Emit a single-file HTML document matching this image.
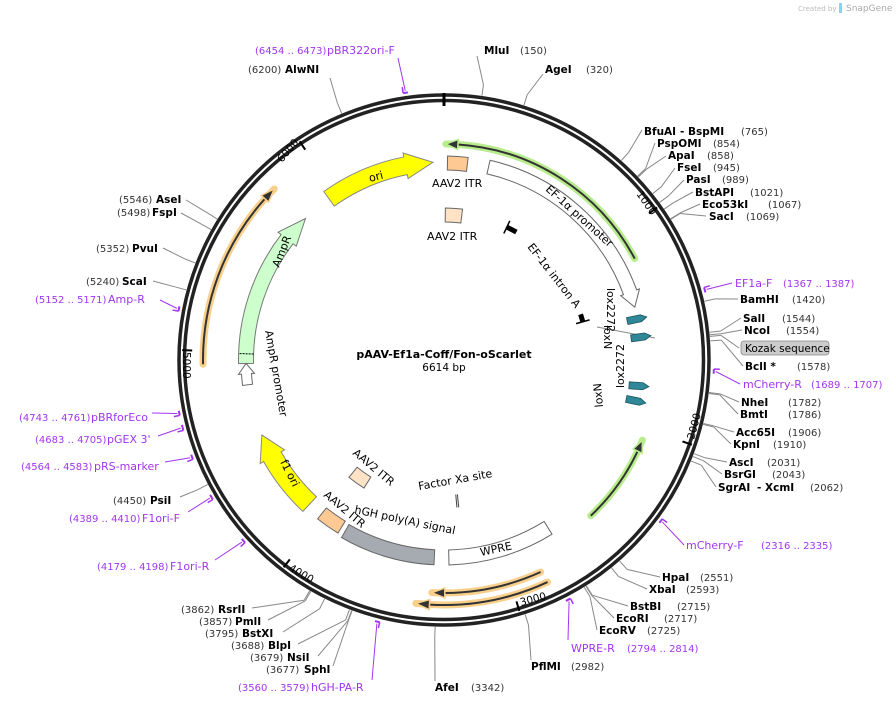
<!DOCTYPE html>
<html><head><meta charset="utf-8">
<style>
html,body{margin:0;padding:0;background:#fff;}
svg{display:block;}
text{font-family:"DejaVu Sans","Liberation Sans",sans-serif;font-size:11px;fill:#000;}
.b{font-weight:bold;font-size:10.5px;}
.n{fill:#333;font-size:10px;}
.p{fill:#a235f0;font-size:10px;}
.f{font-size:11px;}
</style></head>
<body>
<svg id="s" width="896" height="704" viewBox="0 0 896 704" xmlns="http://www.w3.org/2000/svg">
<g id="lines"></g>
<g id="feat"></g>
<!-- ring -->
<circle cx="444" cy="360" r="265" fill="none" stroke="#222" stroke-width="3.5"/>
<circle cx="444" cy="360" r="259.5" fill="none" stroke="#222" stroke-width="3.5"/>
<g id="ticks"></g>
<g id="prim"></g>

<!-- watermark -->
<text x="798" y="11" style="font-size:7px;fill:#bbb">Created by</text>
<rect x="839" y="3" width="3" height="10" fill="#8fd0f0"/>
<text x="846" y="11" style="font-size:9px;fill:#aaa">SnapGene</text>

<!-- center -->
<text x="444" y="358" text-anchor="middle" style="font-size:11px;font-weight:bold">pAAV-Ef1a-Coff/Fon-oScarlet</text>
<text x="444" y="371" text-anchor="middle" style="font-size:10.5px">6614 bp</text>

<!-- tick numbers -->
<text transform="translate(636,194) rotate(55)" style="font-size:10.5px">1000</text>
<text transform="translate(694,440) rotate(-75)" style="font-size:10.5px">2000</text>
<text transform="translate(521,606) rotate(-15)" style="font-size:10.5px">3000</text>
<text transform="translate(288,570) rotate(30)" style="font-size:10.5px">4000</text>
<text transform="translate(183,352) rotate(90)" style="font-size:10.5px">5000</text>
<text transform="translate(282,163) rotate(-50)" style="font-size:10.5px">6000</text>

<!-- feature labels -->
<text transform="translate(370,182) rotate(-15)" class="f">ori</text>
<text x="432" y="187" class="f">AAV2 ITR</text>
<text x="427" y="240" class="f">AAV2 ITR</text>
<text transform="translate(545,190) rotate(42)" class="f">EF-1α promoter</text>
<text transform="translate(527,247) rotate(52)" class="f">EF-1α intron A</text>
<text transform="translate(607,288) rotate(90)" class="f">lox2272</text>
<text transform="translate(604,325) rotate(90)" class="f">loxN</text>
<text transform="translate(624,388) rotate(-90)" class="f">lox2272</text>
<text transform="translate(603,407) rotate(-95)" class="f">loxN</text>
<text transform="translate(279,268) rotate(-68)" class="f">AmpR</text>
<text transform="translate(265,331) rotate(80)" class="f">AmpR promoter</text>
<text transform="translate(280,462) rotate(63)" class="f">f1 ori</text>
<text transform="translate(352,454) rotate(40)" class="f">AAV2 ITR</text>
<text transform="translate(323,496) rotate(40)" class="f">AAV2 ITR</text>
<text transform="translate(354,513) rotate(12)" class="f">hGH poly(A) signal</text>
<text transform="translate(419,490) rotate(-10)" class="f">Factor Xa site</text>
<text transform="translate(481,556) rotate(-12)" class="f">WPRE</text>

<!-- top labels -->
<text x="255" y="54" class="p">(6454 .. 6473)</text><text x="327" y="54" class="p f">pBR322ori-F</text>
<text x="248" y="73" class="n">(6200)</text><text x="285" y="73" class="b">AlwNI</text>
<text x="484" y="54" class="b">MluI</text><text x="520" y="54" class="n">(150)</text>
<text x="545" y="73" class="b">AgeI</text><text x="586" y="73" class="n">(320)</text>
<!-- right -->
<text x="644" y="135" class="b">BfuAI</text><text x="680" y="135" class="b">- BspMI</text><text x="741" y="135" class="n">(765)</text>
<text x="657" y="147" class="b">PspOMI</text><text x="713" y="147" class="n">(854)</text>
<text x="668" y="159" class="b">ApaI</text><text x="707" y="159" class="n">(858)</text>
<text x="677" y="171" class="b">FseI</text><text x="713" y="171" class="n">(945)</text>
<text x="686" y="183" class="b">PasI</text><text x="722" y="183" class="n">(989)</text>
<text x="695" y="196" class="b">BstAPI</text><text x="750" y="196" class="n">(1021)</text>
<text x="702" y="208" class="b">Eco53kI</text><text x="768" y="208" class="n">(1067)</text>
<text x="709" y="220" class="b">SacI</text><text x="746" y="220" class="n">(1069)</text>
<text x="735" y="287" class="p f">EF1a-F</text><text x="783" y="287" class="p">(1367 .. 1387)</text>
<text x="740" y="303" class="b">BamHI</text><text x="792" y="303" class="n">(1420)</text>
<text x="743" y="322" class="b">SalI</text><text x="782" y="322" class="n">(1544)</text>
<text x="744" y="334" class="b">NcoI</text><text x="786" y="334" class="n">(1554)</text>
<rect x="741" y="341" width="88" height="14" rx="3" fill="#ccc" stroke="#888" stroke-width="0.8"/>
<text x="745" y="352" style="font-size:10.5px">Kozak sequence</text>
<text x="745" y="370" class="b">BclI *</text><text x="797" y="370" class="n">(1578)</text>
<text x="743" y="388" class="p f">mCherry-R</text><text x="811" y="388" class="p">(1689 .. 1707)</text>
<text x="741" y="406" class="b">NheI</text><text x="788" y="406" class="n">(1782)</text>
<text x="740" y="418" class="b">BmtI</text><text x="788" y="418" class="n">(1786)</text>
<text x="736" y="436" class="b">Acc65I</text><text x="788" y="436" class="n">(1906)</text>
<text x="733" y="448" class="b">KpnI</text><text x="773" y="448" class="n">(1910)</text>
<text x="729" y="466" class="b">AscI</text><text x="767" y="466" class="n">(2031)</text>
<text x="724" y="478" class="b">BsrGI</text><text x="772" y="478" class="n">(2043)</text>
<text x="718" y="491" class="b">SgrAI</text><text x="757" y="491" class="b">- XcmI</text><text x="810" y="491" class="n">(2062)</text>
<text x="686" y="549" class="p f">mCherry-F</text><text x="761" y="549" class="p">(2316 .. 2335)</text>
<text x="662" y="581" class="b">HpaI</text><text x="700" y="581" class="n">(2551)</text>
<text x="649" y="593" class="b">XbaI</text><text x="686" y="593" class="n">(2593)</text>
<text x="630" y="610" class="b">BstBI</text><text x="677" y="610" class="n">(2715)</text>
<text x="616" y="622" class="b">EcoRI</text><text x="664" y="622" class="n">(2717)</text>
<text x="599" y="634" class="b">EcoRV</text><text x="647" y="634" class="n">(2725)</text>
<text x="571" y="652" class="p f">WPRE-R</text><text x="627" y="652" class="p">(2794 .. 2814)</text>
<text x="531" y="670" class="b">PflMI</text><text x="571" y="670" class="n">(2982)</text>
<text x="435" y="691" class="b">AfeI</text><text x="471" y="691" class="n">(3342)</text>
<!-- bottom-left -->
<text x="238" y="691" class="p">(3560 .. 3579)</text><text x="311" y="691" class="p f">hGH-PA-R</text>
<text x="266" y="673" class="n">(3677)</text><text x="304" y="673" class="b">SphI</text>
<text x="250" y="661" class="n">(3679)</text><text x="287" y="661" class="b">NsiI</text>
<text x="231" y="649" class="n">(3688)</text><text x="268" y="649" class="b">BlpI</text>
<text x="205" y="637" class="n">(3795)</text><text x="242" y="637" class="b">BstXI</text>
<text x="199" y="625" class="n">(3857)</text><text x="235" y="625" class="b">PmlI</text>
<text x="181" y="613" class="n">(3862)</text><text x="218" y="613" class="b">RsrII</text>
<text x="97" y="570" class="p">(4179 .. 4198)</text><text x="170" y="570" class="p f">F1ori-R</text>
<text x="69" y="522" class="p">(4389 .. 4410)</text><text x="142" y="522" class="p f">F1ori-F</text>
<text x="113" y="504" class="n">(4450)</text><text x="150" y="504" class="b">PsiI</text>
<text x="21" y="470" class="p">(4564 .. 4583)</text><text x="94" y="470" class="p f">pRS-marker</text>
<text x="35" y="443" class="p">(4683 .. 4705)</text><text x="107" y="443" class="p f">pGEX 3'</text>
<text x="19" y="421" class="p">(4743 .. 4761)</text><text x="91" y="421" class="p f">pBRforEco</text>
<text x="35" y="303" class="p">(5152 .. 5171)</text><text x="108" y="303" class="p f">Amp-R</text>
<text x="86" y="285" class="n">(5240)</text><text x="122" y="285" class="b">ScaI</text>
<text x="96" y="252" class="n">(5352)</text><text x="132" y="252" class="b">PvuI</text>
<text x="117" y="216" class="n">(5498)</text><text x="152" y="216" class="b">FspI</text>
<text x="119" y="203" class="n">(5546)</text><text x="156" y="203" class="b">AseI</text>
</svg>
<script>
var CX=444,CY=360,N="http://www.w3.org/2000/svg";
function P(r,a){a=a*Math.PI/180;return [CX+r*Math.sin(a),CY-r*Math.cos(a)];}
function A(bp){return bp/6614*360;}
function el(g,t,at){var e=document.createElementNS(N,t);for(var k in at)e.setAttribute(k,at[k]);document.getElementById(g).appendChild(e);return e;}
function arc(r,a1,a2){var p=P(r,a1),q=P(r,a2);var l=Math.abs(a2-a1)>180?1:0;var sw=a2>a1?1:0;return "M"+p+" A"+r+","+r+" 0 "+l+","+sw+" "+q;}
function band(r1,r2,a1,a2){var p=P(r2,a2),l=Math.abs(a2-a1)>180?1:0;return arc(r1,a1,a2)+" L"+p+" A"+r2+","+r2+" 0 "+l+",0 "+P(r2,a1)+" Z";}
function arrowBand(r,w,a1,a2,h,hw){
 var d=a2>a1?1:-1,ah=a2-d*h,r1=r-w/2,r2=r+w/2;
 var s="M"+P(r1,a1)+" A"+r1+","+r1+" 0 0,"+(d>0?1:0)+" "+P(r1,ah)+" L"+P(r-w/2-hw,ah)+" L"+P(r,a2)+" L"+P(r+w/2+hw,ah)+" L"+P(r2,ah)+" A"+r2+","+r2+" 0 0,"+(d>0?0:1)+" "+P(r2,a1)+" Z";return s;}
function thin(r,a1,a2,glow){
 el("feat","path",{d:arc(r,a1,a2),fill:"none",stroke:glow,"stroke-width":7,"stroke-linecap":"round"});
 var d=a2>a1?1:-1,ah=a2-d*3.2;
 el("feat","path",{d:arc(r,a1,ah),fill:"none",stroke:"#333","stroke-width":2});
 el("feat","path",{d:"M"+P(r,a2)+" L"+P(r-5,ah)+" L"+P(r+5,ah)+" Z",fill:"#333",stroke:glow,"stroke-width":1.5});
}
el("feat","path",{d:arrowBand(198,14,13,74.5,4.5,3),fill:"#fff",stroke:"#666","stroke-width":1});
thin(216,62,0.5,"#b8ec8c");
thin(214,136.7,112,"#b8ec8c");
thin(233,155.5,183,"#f8d08c");
thin(245,155,186.6,"#f8d08c");
thin(241,269,315.2,"#f8d08c");
el("feat","path",{d:arrowBand(198,18,324.5,356.8,8,4),fill:"#ffff00",stroke:"#888","stroke-width":1});
el("feat","path",{d:arrowBand(198,15,269,315.6,8,4),fill:"#ccffcc",stroke:"#777","stroke-width":1});
el("feat","line",{x1:P(190.5,271.8)[0],y1:P(190.5,271.8)[1],x2:P(205.5,271.8)[0],y2:P(205.5,271.8)[1],stroke:"#000","stroke-dasharray":"2,1","stroke-width":1});
el("feat","path",{d:arrowBand(198,10,262.8,269,3,3),fill:"#fff",stroke:"#666","stroke-width":1});
el("feat","path",{d:arrowBand(197,20,223,247.6,7,4),fill:"#ffff00",stroke:"#888","stroke-width":1});
el("feat","path",{d:band(190,205,182.8,210),fill:"#a6abb1",stroke:"#666","stroke-width":1});
el("feat","path",{d:band(190,205,148.2,178.6),fill:"#fff",stroke:"#666","stroke-width":1});
el("feat","path",{d:band(190,204,1,6.8),fill:"#ffc994",stroke:"#666","stroke-width":1});
el("feat","path",{d:band(138,152,0.5,7),fill:"#ffe3c4",stroke:"#666","stroke-width":1});
el("feat","path",{d:band(138,151,212,219),fill:"#ffe3c4",stroke:"#666","stroke-width":1});
el("feat","path",{d:band(189,203,211.5,218.5),fill:"#ffc994",stroke:"#666","stroke-width":1});
[174.3,175].forEach(function(a){var p=P(135,a),q=P(148,a);el("feat","line",{x1:p[0],y1:p[1],x2:q[0],y2:q[1],stroke:"#444","stroke-width":1});});
el("feat","path",{d:arc(147,25.5,29.5),fill:"none",stroke:"#000","stroke-width":5});
el("feat","line",{x1:P(140,25.3)[0],y1:P(140,25.3)[1],x2:P(154,25.3)[0],y2:P(154,25.3)[1],stroke:"#000","stroke-width":1.5});
el("feat","path",{d:arc(144,71.5,74.5),fill:"none",stroke:"#000","stroke-width":5});
el("feat","line",{x1:P(137,74.6)[0],y1:P(137,74.6)[1],x2:P(151,74.6)[0],y2:P(151,74.6)[1],stroke:"#000","stroke-width":1.5});
// lox - horizontal-ish arrows
[[637,319,-12],[641,337,-8],[639,386,4],[636,401,12]].forEach(function(x){
 var g=el("feat","path",{d:"M-10,-3.5 L4,-3.5 L10,0 L4,3.5 L-10,3.5 Z",fill:"#2f8797",stroke:"#1a5560","stroke-width":0.8,transform:"translate("+x[0]+","+x[1]+") rotate("+x[2]+")"});});
function ln(p,q,c){el("lines","line",{x1:p[0],y1:p[1],x2:q[0],y2:q[1],stroke:c||"#888","stroke-width":1});}
ln([597,327],[655,338]);
[0,1000,2000,3000,4000,5000,6000].forEach(function(b){var a=A(b),p=P(a===0?254:252,a),q=P(a===0?267:262,a);el("ticks","line",{x1:p[0],y1:p[1],x2:q[0],y2:q[1],stroke:"#000","stroke-width":a===0?3:2});});
var E=[[150,477,56],[320,543,74],[765,642,130],[854,655,143],[858,666,156],[945,675,168],[989,684,180],[1021,693,192],[1067,700,204],[1069,706,216],
[1420,738,299],[1544,741,318],[1554,742,330],[1560,739,348],[1578,743,366],[1782,739,402],[1786,738,414],[1906,734,432],[1910,731,444],[2031,727,462],[2043,722,474],[2062,716,487],
[2551,660,577],[2593,647,589],[2715,628,606],[2717,614,618],[2725,597,630],[2982,531,660],[3342,435,681],
[3677,333,666],[3679,318,656],[3688,298,644],[3795,283,632],[3857,268,620],[3862,252,608],
[4450,180,497],[5240,153,281],[5352,163,248],[5498,181,213],[5546,186,200],[6200,330,78]];
E.forEach(function(e){var a=A(e[0]),p=P(267,a),q=P(278,a);ln(p,q);ln(q,[e[1],e[2]]);});
var PR=[[6454,6473,398,58],[1367,1387,732,283],[1689,1707,740,384],[2316,2335,684,545],[2794,2814,568,640],[3560,3579,372,680],[4179,4198,215,560],[4389,4410,188,512],[4564,4583,165,462],[4683,4705,158,436],[4743,4761,152,413],[5152,5171,160,300]];
PR.forEach(function(e){var a1=A(e[0]),a2=A(e[1]),m=(a1+a2)/2;
 el("prim","path",{d:arc(270,a1,a2),fill:"none",stroke:"#a235f0","stroke-width":2});
 var p=P(270,a1),q=P(276,a1);el("prim","line",{x1:p[0],y1:p[1],x2:q[0],y2:q[1],stroke:"#a235f0","stroke-width":1.5});
 var s=P(272,m);el("prim","line",{x1:s[0],y1:s[1],x2:e[2],y2:e[3],stroke:"#a235f0","stroke-width":1});});
</script>
</body></html>
